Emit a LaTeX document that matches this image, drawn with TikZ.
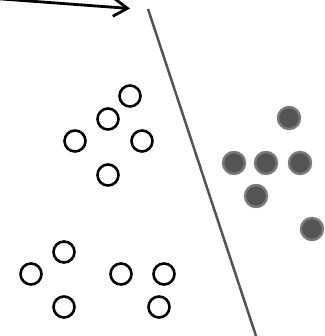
\documentclass[tikz,border=0pt]{standalone}
\usetikzlibrary{arrows.meta}
\begin{document}
\begin{tikzpicture}[x=1pt,y=-1pt,
  opendot/.style={circle,draw=black,line width=2.6pt,minimum size=21pt,inner sep=0pt,fill=white},
  filldot/.style={circle,draw=black!52,fill=black!67,line width=2.4pt,minimum size=22pt,inner sep=0pt}]
\useasboundingbox (0,0) rectangle (324,336);
\clip (0,0) rectangle (324,336);
% separating line
\coordinate (l1) at (148,9);
\coordinate (l2) at (256,336);
\draw[black!67,line width=2.5pt] (l1) -- (l2);
% arrow
\coordinate (a0) at (-5,-1.5);
\coordinate (a1) at (130,8.5);
\draw[line width=2.8pt,-{Straight Barb[length=14pt,width=18pt,line width=2.8pt]}] (a0) -- (a1);
% open circles
\node[opendot] (o1) at (130,96) {};
\node[opendot] (o2) at (108,119) {};
\node[opendot] (o3) at (75,141) {};
\node[opendot] (o4) at (142,141) {};
\node[opendot] (o5) at (108,175) {};
\node[opendot] (o6) at (64,252) {};
\node[opendot] (o7) at (31,274) {};
\node[opendot] (o8) at (64,307) {};
\node[opendot] (o9) at (121,274) {};
\node[opendot] (o10) at (164,274) {};
\node[opendot] (o11) at (159,307) {};
% filled circles
\node[filldot] (f1) at (289,118) {};
\node[filldot] (f2) at (234,163) {};
\node[filldot] (f3) at (266,163) {};
\node[filldot] (f4) at (300,163) {};
\node[filldot] (f5) at (256,196) {};
\node[filldot] (f6) at (312,229) {};
\end{tikzpicture}
\end{document}
